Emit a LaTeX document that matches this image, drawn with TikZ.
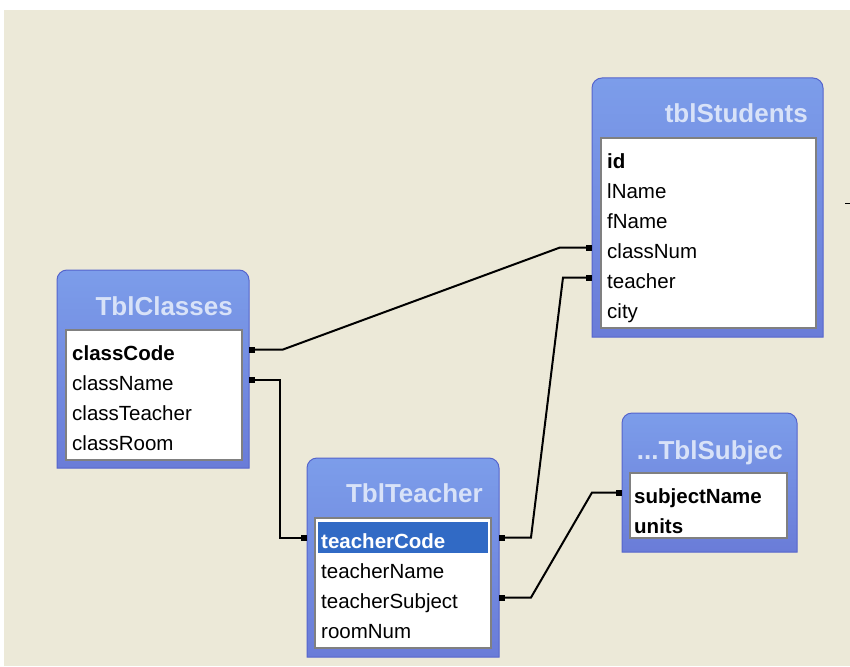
\documentclass[tikz,border=0pt]{standalone}
\usepackage{fontspec}
\setmainfont{Liberation Sans}
\usetikzlibrary{arrows.meta}
\definecolor{xpbg}{HTML}{ECE9D8}
\definecolor{xptop}{HTML}{7C9DEA}
\definecolor{xpbot}{HTML}{6A7CD8}
\definecolor{xpedge}{HTML}{5564CC}
\definecolor{xptitle}{HTML}{D8E2F8}
\definecolor{xpsel}{HTML}{316AC5}

\begin{document}
\begin{tikzpicture}[x=1pt,y=-1pt,
    tbl/.style={inner sep=0pt, outer sep=0pt, anchor=north west},
    frame/.style={draw=xpedge, line width=1pt, top color=xptop, bottom color=xpbot},
    body/.style={fill=white, draw=gray, line width=1.5pt},
    title/.style={anchor=base east, inner sep=0pt, text=xptitle, font=\fontsize{26}{30}\selectfont\bfseries},
    field/.style={anchor=base west, inner sep=0pt, text height=21pt, text depth=0pt, font=\fontsize{20.5}{24}\selectfont},
    key/.style={field, font=\fontsize{20.5}{24}\selectfont\bfseries},
    link/.style={line width=2pt, {Square[length=6pt,width=6pt]}-{Square[length=6pt,width=6pt]}}
  ]
  \useasboundingbox (0,0) rectangle (850,666);
  \fill[white] (0,0) rectangle (850,666);
  \fill[xpbg] (4,10) rectangle (850,666);

  % table frames
  \node[tbl, minimum width=231pt, minimum height=259pt] (students) at (592,78) {};
  \node[tbl, minimum width=192pt, minimum height=198pt] (classes) at (57,270) {};
  \node[tbl, minimum width=192pt, minimum height=199pt] (teacher) at (307,458) {};
  \node[tbl, minimum width=175pt, minimum height=139pt] (subjects) at (622,413) {};
  \foreach \t in {students,classes,teacher,subjects}
    \path[frame] (\t.south west) -- ([yshift=-10pt]\t.north west)
      arc[start angle=180, end angle=270, radius=10] -- ([xshift=-10pt]\t.north east)
      arc[start angle=270, end angle=360, radius=10] -- (\t.south east) -- cycle;

  % white field lists
  \draw[body] (601,138) rectangle (816,328);
  \draw[body] (66,330) rectangle (242,460);
  \draw[body] (315,518) rectangle (491,648);
  \draw[body] (630,473) rectangle (787,538);
  \fill[xpsel] (318,522) rectangle (488,553);

  % titles
  \node[title] (sTitle) at (808,122) {tblStudents};
  \node[title] (cTitle) at (233,315) {TblClasses};
  \node[title] (tTitle) at (483,502) {TblTeacher};
  \node[title] (uTitle) at (783,459) {...TblSubjec};

  % tblStudents
  \node[key] (sId) at (607,168) {id};
  \node[field] (sLName) at (607,198) {lName};
  \node[field] (sFName) at (607,228) {fName};
  \node[field] (sClass) at (607,258) {classNum};
  \node[field] (sTeacher) at (607,288) {teacher};
  \node[field] (sCity) at (607,318) {city};

  % TblClasses
  \node[key] (cCode) at (72,360) {classCode};
  \node[field] (cName) at (72,390) {className};
  \node[field] (cTeacher) at (72,420) {classTeacher};
  \node[field] (cRoom) at (72,450) {classRoom};

  % TblTeacher
  \node[key, text=white] (tCode) at (321,548) {teacherCode};
  \node[field] (tName) at (321,578) {teacherName};
  \node[field] (tSubject) at (321,608) {teacherSubject};
  \node[field] (tRoom) at (321,638) {roomNum};

  % TblSubjec
  \node[key] (uName) at (634,503) {subjectName};
  \node[key] (uUnits) at (634,533) {units};

  % relations
  \draw[link] (cCode -| classes.east) -- ++(34,0) -- ([xshift=-32pt]sClass -| students.west) -- (sClass -| students.west);
  \draw[link] (cName -| classes.east) -- ++(31,0) |- (tCode -| teacher.west);
  \draw[link] (tCode -| teacher.east) -- ++(32,0) -- ([xshift=-29pt]sTeacher -| students.west) -- (sTeacher -| students.west);
  \draw[link] (tSubject -| teacher.east) -- ++(32,0) -- ([xshift=-30pt]uName -| subjects.west) -- (uName -| subjects.west);
  \draw[line width=1pt] (845,203) -- (850,203);
\end{tikzpicture}
\end{document}
